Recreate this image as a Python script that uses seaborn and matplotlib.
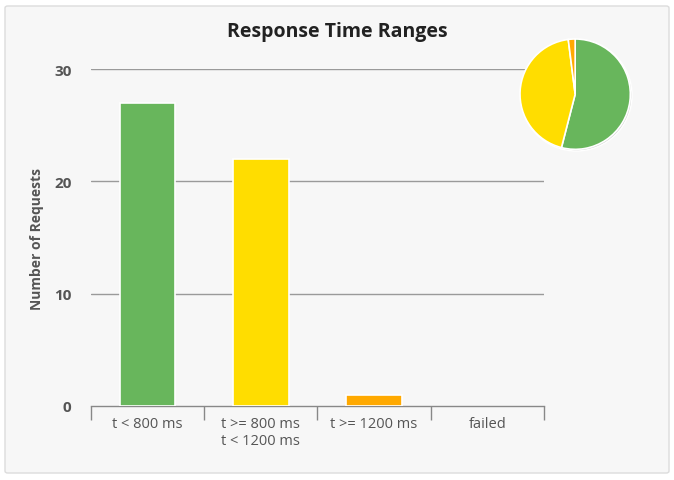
import matplotlib
matplotlib.use("Agg")
import matplotlib.pyplot as plt
from matplotlib.patches import FancyBboxPatch
import seaborn as sns
import pandas as pd

# data
categories = ["t < 800 ms", "t >= 800 ms\nt < 1200 ms", "t >= 1200 ms", "failed"]
requests = [27, 22, 1, 0]
colors = ["#68b65c", "#ffdd00", "#ffa900", "#f15b4f"]
y_ticks = [0, 10, 20, 30]

sns.set_style("white")
plt.rcParams["font.family"] = ["Open Sans", "DejaVu Sans"]

df = pd.DataFrame({"range": categories, "count": requests})

fig = plt.figure(figsize=(6.74, 4.81), dpi=100)
fig.patch.set_facecolor("white")

# outer panel
panel = FancyBboxPatch((5 / 674, 7 / 481), 664 / 674, 467 / 481,
                       boxstyle="round,pad=0,rounding_size=0.004",
                       transform=fig.transFigure, facecolor="#f7f7f7",
                       edgecolor="#dcdcdc", linewidth=1, zorder=-10)
fig.patches.append(panel)

ax = fig.add_axes([91 / 674, 74 / 481, 453 / 674, 337 / 481])
ax.set_facecolor("none")

sns.barplot(data=df, x="range", y="count", hue="range", palette=colors,
            saturation=1, legend=False, width=0.49, edgecolor="white",
            linewidth=1.2, ax=ax, zorder=3)
for p in ax.patches:
    if p.get_height() == 0:
        p.set_visible(False)

ax.set_ylim(0, 30)
ax.set_xlim(-0.5, len(categories) - 0.5)
ax.set_yticks(y_ticks)
ax.set_yticklabels([str(t) for t in y_ticks], fontsize=11, fontweight="bold",
                   color="#555555")
for t in y_ticks[1:]:
    ax.axhline(t, color="#9a9a9a", linewidth=1, zorder=1)

ax.tick_params(axis="y", length=0, pad=14)
ax.tick_params(axis="x", length=0, pad=7, labelsize=10.5, labelcolor="#555555")

# category boundary ticks below the axis
ax.set_xticks([i - 0.5 for i in range(len(categories) + 1)], minor=True)
ax.tick_params(axis="x", which="minor", bottom=True, length=10, width=1,
               color="#888888", direction="out")

for side in ["top", "right", "left"]:
    ax.spines[side].set_visible(False)
ax.spines["bottom"].set_color("#888888")
ax.spines["bottom"].set_linewidth(1)

ax.set_xlabel("")
ax.set_ylabel("Number of Requests", fontsize=10, fontweight="bold",
              color="#555555", labelpad=7)

fig.text(337 / 674, 1 - 32 / 481, "Response Time Ranges", ha="center",
         va="center", fontsize=14, fontweight="bold", color="#222222")

# pie in the top-right corner
pax = fig.add_axes([520 / 674, 1 - 152 / 481, 112 / 674, 112 / 481])
pie_vals = [v for v in requests if v > 0]
pie_cols = [c for v, c in zip(requests, colors) if v > 0]
pax.pie([1], colors=["#d4d4d4"], radius=1.01, center=(0.02, -0.02))
pax.pie(pie_vals, colors=pie_cols, startangle=90, counterclock=False,
        wedgeprops=dict(edgecolor="white", linewidth=1.2))
pax.set_xlim(-1.0, 1.03)
pax.set_ylim(-1.03, 1.0)
pax.set_aspect("equal")

fig.savefig("out.png", dpi=100, facecolor="white")
